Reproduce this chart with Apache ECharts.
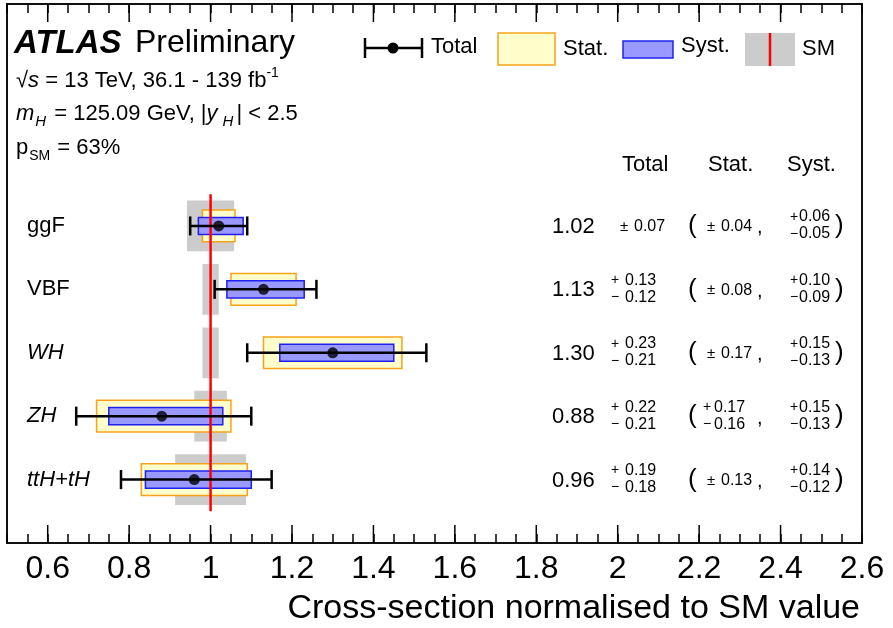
<!DOCTYPE html>
<html>
<head>
<meta charset="utf-8">
<script src="https://cdn.jsdelivr.net/npm/echarts@6/dist/echarts.min.js"></script>
<style>html,body{margin:0;padding:0;background:#fff}#c{width:893px;height:628px}</style>
</head>
<body>
<div id="c"></div>
<script>
// ---- data ----
const categories = ['ggF', 'VBF', 'WH', 'ZH', 'ttH+tH'];
const italicCat = [false, false, true, true, true];
const central = [1.02, 1.13, 1.30, 0.88, 0.96];
const totUp = [0.07, 0.13, 0.23, 0.22, 0.19];
const totDn = [0.07, 0.12, 0.21, 0.21, 0.18];
const statUp = [0.04, 0.08, 0.17, 0.17, 0.13];
const statDn = [0.04, 0.08, 0.17, 0.16, 0.13];
const systUp = [0.06, 0.10, 0.15, 0.15, 0.14];
const systDn = [0.05, 0.09, 0.13, 0.13, 0.12];
const smUnc = [0.058, 0.02, 0.02, 0.04, 0.087];
const smValue = 1;
const tickLabels = ['0.6', '0.8', '1', '1.2', '1.4', '1.6', '1.8', '2', '2.2', '2.4', '2.6'];
const majorTicks = [0.6, 0.8, 1.0, 1.2, 1.4, 1.6, 1.8, 2.0, 2.2, 2.4];

const FONT = 'Liberation Sans, Arial, Helvetica, sans-serif';
const X_MIN = 0.5, X_MAX = 2.6, Y_MIN = 0, Y_MAX = 8.5;
const nRows = categories.length;
const rowOf = i => nRows - i;

const rows = categories.map((c, i) => [i]);

function rectBetween(api, x0, x1, y, halfH) {
  const a = api.coord([x0, y + halfH]);
  const b = api.coord([x1, y - halfH]);
  return { x: a[0], y: a[1], width: b[0] - a[0], height: b[1] - a[1] };
}

const chart = echarts.init(document.getElementById('c'), null, { renderer: 'canvas' });

const xAxisBase = {
  type: 'value', min: X_MIN, max: X_MAX, interval: 0.05,
  axisLine: { show: false },
  splitLine: { show: false },
  axisTick: { show: true, inside: true, length: 9, lineStyle: { color: '#000', width: 1.5 } }
};

const option = {
  animation: false,
  backgroundColor: '#fff',
  grid: { left: 7, right: 31, top: 4, bottom: 85, show: true, borderColor: '#111', borderWidth: 2, backgroundColor: 'transparent' },
  xAxis: [
    Object.assign({}, xAxisBase, {
      position: 'bottom',
      axisLabel: {
        show: true, fontSize: 32, color: '#000', fontFamily: FONT, margin: 10,
        showMinLabel: true, showMaxLabel: true,
        formatter: v => { const s = String(+(+v).toFixed(2)); return tickLabels.indexOf(s) >= 0 ? s : ''; }
      }
    }),
    Object.assign({}, xAxisBase, { position: 'top', axisLabel: { show: false } })
  ],
  yAxis: { type: 'value', min: Y_MIN, max: Y_MAX, show: false },
  series: [
    // major ticks
    {
      type: 'custom', silent: true, data: majorTicks.map(v => [v]),
      renderItem: (params, api) => {
        const v = api.value(0);
        const b = api.coord([v, Y_MIN]);
        const t = api.coord([v, Y_MAX]);
        const ls = { stroke: '#000', lineWidth: 1.5 };
        return { type: 'group', children: [
          { type: 'line', shape: { x1: b[0], y1: b[1], x2: b[0], y2: b[1] - 18 }, style: ls },
          { type: 'line', shape: { x1: t[0], y1: t[1], x2: t[0], y2: t[1] + 18 }, style: ls }
        ]};
      }
    },
    // SM band
    {
      type: 'custom', silent: true, data: rows,
      renderItem: (params, api) => {
        const i = api.value(0);
        return { type: 'rect', shape: rectBetween(api, smValue - smUnc[i], smValue + smUnc[i], rowOf(i), 0.4), style: { fill: '#cccccc' } };
      }
    },
    // stat boxes
    {
      type: 'custom', silent: true, data: rows,
      renderItem: (params, api) => {
        const i = api.value(0);
        return { type: 'rect', shape: rectBetween(api, central[i] - statDn[i], central[i] + statUp[i], rowOf(i), 0.25), style: { fill: '#ffffcc', stroke: '#f7a21b', lineWidth: 1.5 } };
      }
    },
    // syst boxes
    {
      type: 'custom', silent: true, data: rows,
      renderItem: (params, api) => {
        const i = api.value(0);
        return { type: 'rect', shape: rectBetween(api, central[i] - systDn[i], central[i] + systUp[i], rowOf(i), 0.135), style: { fill: '#9999ff', stroke: '#2020ee', lineWidth: 1.5 } };
      }
    },
    // SM line
    {
      type: 'custom', silent: true, data: [[smValue]],
      renderItem: (params, api) => {
        const a = api.coord([smValue, 0.5]);
        const b = api.coord([smValue, nRows + 0.5]);
        return { type: 'line', shape: { x1: a[0], y1: a[1], x2: b[0], y2: b[1] }, style: { stroke: '#ff0000', lineWidth: 2.5 } };
      }
    },
    // total error bars
    {
      type: 'custom', silent: true, data: rows,
      renderItem: (params, api) => {
        const i = api.value(0);
        const y = rowOf(i);
        const l = api.coord([central[i] - totDn[i], y]);
        const r = api.coord([central[i] + totUp[i], y]);
        const lt = api.coord([central[i] - totDn[i], y + 0.15]);
        const lb = api.coord([central[i] - totDn[i], y - 0.15]);
        const rt = api.coord([central[i] + totUp[i], y + 0.15]);
        const rb = api.coord([central[i] + totUp[i], y - 0.15]);
        const ls = { stroke: '#000', lineWidth: 2.5 };
        return { type: 'group', children: [
          { type: 'line', shape: { x1: l[0], y1: l[1], x2: r[0], y2: r[1] }, style: ls },
          { type: 'line', shape: { x1: lt[0], y1: lt[1], x2: lb[0], y2: lb[1] }, style: ls },
          { type: 'line', shape: { x1: rt[0], y1: rt[1], x2: rb[0], y2: rb[1] }, style: ls }
        ]};
      }
    },
    // central values
    {
      type: 'scatter', silent: true, symbol: 'circle', symbolSize: 11,
      itemStyle: { color: '#000' },
      data: central.map((c, i) => [c, rowOf(i)])
    },
    // category labels and numeric table
    {
      type: 'custom', silent: true, data: rows,
      renderItem: (params, api) => {
        const i = api.value(0);
        const p = api.coord([X_MIN, rowOf(i)]);
        const y = p[1];
        const kids = [];
        const txt = (x, yy, text, size, extra) => kids.push({
          type: 'text',
          style: Object.assign({ x: x, y: yy, text: text, fill: '#000', font: size + 'px ' + FONT, textAlign: 'left', textVerticalAlign: 'middle' }, extra || {})
        });
        txt(p[0] + 20, y, categories[i], 22, italicCat[i] ? { font: 'italic 22px ' + FONT } : null);
        txt(552, y + 1, central[i].toFixed(2), 22);
        // columns: [up, dn, singleSignX, singleNumX, pairSignX, pairNumX]
        const cols = [
          [totUp[i], totDn[i], 620, 634, 611, 625],
          [statUp[i], statDn[i], 707, 721, 703, 714],
          [systUp[i], systDn[i], 790, 800, 790, 799]
        ];
        cols.forEach(c => {
          const up = c[0], dn = c[1];
          if (Math.abs(up - dn) < 1e-9) {
            txt(c[2], y + 1, '\u00b1', 15);
            txt(c[3], y + 1, up.toFixed(2), 16);
          } else {
            txt(c[4], y - 9, '+', 14);
            txt(c[5], y - 9, up.toFixed(2), 16);
            txt(c[4], y + 8, '\u2212', 14);
            txt(c[5], y + 8, dn.toFixed(2), 16);
          }
        });
        txt(688, y, '(', 26);
        txt(757, y + 2, ',', 20);
        txt(835, y, ')', 26);
        return { type: 'group', children: kids };
      }
    }
  ],
  graphic: [
    { type: 'text', left: 14, top: 27, style: { text: 'ATLAS', font: 'italic bold 33px ' + FONT, fill: '#000' } },
    { type: 'text', left: 135, top: 27, style: { text: 'Preliminary', font: '32px ' + FONT, fill: '#000' } },
    { type: 'text', left: 16, top: 66, style: {
      text: '{a|\u221a}{i|s}{n| = 13 TeV, 36.1 - 139 fb}{sup|-1}', fill: '#000',
      rich: {
        a: { font: '22px ' + FONT, lineHeight: 30, verticalAlign: 'middle' },
        i: { font: 'italic 22px ' + FONT, lineHeight: 30, verticalAlign: 'middle' },
        n: { font: '22px ' + FONT, lineHeight: 30, verticalAlign: 'middle' },
        sup: { font: '14px ' + FONT, lineHeight: 14, verticalAlign: 'top' }
      } } },
    { type: 'text', left: 16, top: 103, style: {
      text: '{i|m}{sub|H}{n| = 125.09 GeV, |}{i|y}{sub2|H}{n|| < 2.5}', fill: '#000',
      rich: {
        i: { font: 'italic 22px ' + FONT, lineHeight: 30, verticalAlign: 'middle' },
        n: { font: '22px ' + FONT, lineHeight: 30, verticalAlign: 'middle' },
        sub: { font: 'italic 15px ' + FONT, lineHeight: 14, verticalAlign: 'bottom', padding: [0, 2, 0, 1] },
        sub2: { font: 'italic 15px ' + FONT, lineHeight: 12, verticalAlign: 'bottom', padding: [0, 3, 0, 5] }
      } } },
    { type: 'text', left: 16, top: 137, style: {
      text: '{n|p}{sub|SM}{n| = 63%}', fill: '#000',
      rich: {
        n: { font: '22px ' + FONT, lineHeight: 30, verticalAlign: 'middle' },
        sub: { font: '14px ' + FONT, lineHeight: 12, verticalAlign: 'bottom', padding: [0, 1, 0, 1] }
      } } },
    // legend: Total
    { type: 'line', shape: { x1: 365, y1: 48, x2: 422, y2: 48 }, style: { stroke: '#000', lineWidth: 2.5 } },
    { type: 'line', shape: { x1: 365, y1: 38, x2: 365, y2: 58 }, style: { stroke: '#000', lineWidth: 2.5 } },
    { type: 'line', shape: { x1: 422, y1: 38, x2: 422, y2: 58 }, style: { stroke: '#000', lineWidth: 2.5 } },
    { type: 'circle', shape: { cx: 393, cy: 48, r: 5.5 }, style: { fill: '#000' } },
    { type: 'text', left: 431, top: 36, style: { text: 'Total', font: '22px ' + FONT, fill: '#000' } },
    // legend: Stat
    { type: 'rect', shape: { x: 498, y: 33, width: 57, height: 32 }, style: { fill: '#ffffcc', stroke: '#f7a21b', lineWidth: 1.5 } },
    { type: 'text', left: 563, top: 38, style: { text: 'Stat.', font: '22px ' + FONT, fill: '#000' } },
    // legend: Syst
    { type: 'rect', shape: { x: 623, y: 41, width: 50, height: 17 }, style: { fill: '#9999ff', stroke: '#2020ee', lineWidth: 1.5 } },
    { type: 'text', left: 681, top: 35, style: { text: 'Syst.', font: '22px ' + FONT, fill: '#000' } },
    // legend: SM
    { type: 'rect', shape: { x: 745, y: 33, width: 50, height: 33 }, style: { fill: '#cccccc' } },
    { type: 'line', shape: { x1: 770, y1: 33, x2: 770, y2: 66 }, style: { stroke: '#ff0000', lineWidth: 2.5 } },
    { type: 'text', left: 802, top: 38, style: { text: 'SM', font: '22px ' + FONT, fill: '#000' } },
    // column headers
    { type: 'text', left: 622, top: 154, style: { text: 'Total', font: '22px ' + FONT, fill: '#000' } },
    { type: 'text', left: 708, top: 154, style: { text: 'Stat.', font: '22px ' + FONT, fill: '#000' } },
    { type: 'text', left: 787, top: 154, style: { text: 'Syst.', font: '22px ' + FONT, fill: '#000' } },
    // axis title
    { type: 'text', right: 33, top: 592, style: { text: 'Cross-section normalised to SM value', font: '34px ' + FONT, fill: '#000' } }
  ]
};
chart.setOption(option);
</script>
</body>
</html>
